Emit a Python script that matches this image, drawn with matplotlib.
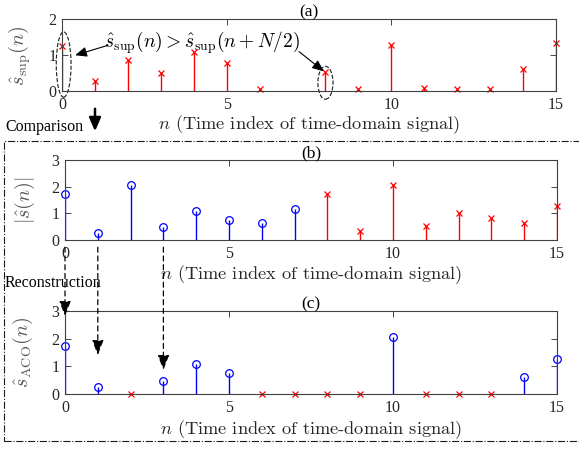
import numpy as np
import matplotlib
matplotlib.use("Agg")
import matplotlib.pyplot as plt
from matplotlib.patches import Ellipse, Rectangle, FancyArrowPatch, ConnectionPatch

plt.rcParams['font.family'] = ['Liberation Serif', 'DejaVu Serif']
plt.rcParams['mathtext.fontset'] = 'cm'

# (a) superimposed signal, n = 7 has no marker in the picture
n = np.arange(16)
s_sup = [1.26, 0.28, 0.88, 0.51, 1.09, 0.79, 0.05, np.nan,
         0.53, 0.05, 1.30, 0.07, 0.06, 0.05, 0.62, 1.33]

# (b) |s(n)|: first half blue, second half red
s_abs = [1.72, 0.26, 2.06, 0.47, 1.07, 0.76, 0.62, 1.18,
         1.72, 0.35, 2.07, 0.53, 1.03, 0.84, 0.62, 1.29]

# (c) reconstructed ACO signal
aco_n = [0, 1, 3, 4, 5, 10, 14, 15]
aco_vals = [1.73, 0.25, 0.48, 1.07, 0.76, 2.06, 0.60, 1.28]
aco_zero_n = [2, 6, 7, 8, 9, 11, 12, 13]

xticks = [0, 5, 10, 15]
xlab = r"$n$ (Time index of time-domain signal)"

W, H = 579, 449
fig = plt.figure(figsize=(W / 100, H / 100), dpi=100)


def px_axes(left, top, right, bottom):
    return fig.add_axes([left / W, 1 - bottom / H, (right - left) / W, (bottom - top) / H])


def style(ax, ymax, title, ylabel, ylab_x, xlab_y):
    ax.set_xlim(0, 15)
    ax.set_ylim(0, ymax)
    ax.set_xticks(xticks)
    ax.set_yticks(range(ymax + 1))
    ax.tick_params(direction='in', top=True, right=True, length=4, width=0.6,
                   labelsize=11.5, colors='0.15', pad=4)
    for sp in ax.spines.values():
        sp.set_color('0.25')
        sp.set_linewidth(0.8)
    ax.set_title(title, fontsize=12.5, pad=2)
    ax.set_ylabel(ylabel, fontsize=14.5, color='0.35')
    ax.yaxis.set_label_coords(ylab_x, 0.5)
    ax.set_xlabel(xlab, fontsize=13.2, family='cmr10', color='0.15')
    ax.xaxis.set_label_coords(0.5, xlab_y)


def stems(ax, x, y, color, marker, ms):
    ml, sl, bl = ax.stem(x, y, linefmt='-', markerfmt=marker, basefmt=' ')
    plt.setp(sl, color=color, linewidth=1.0)
    plt.setp(ml, color=color, markersize=ms, markerfacecolor='none', markeredgewidth=0.9)
    ml.set_clip_on(False)
    return ml


# ---- (a)
ax_a = px_axes(62, 19.5, 556, 91)
stems(ax_a, n, s_sup, 'red', 'x', 5)
style(ax_a, 2, "(a)", r"$\hat{s}_{\rm sup}(n)$", -0.058, -0.31)

ax_a.add_patch(Ellipse((0.05, 0.74), 0.45, 1.83, fill=False, ls='--', lw=0.8,
                       color='0.1', clip_on=False))
ax_a.add_patch(Ellipse((8.0, 0.23), 0.46, 0.92, fill=False, ls='--', lw=0.8,
                       color='0.1', clip_on=False))
ax_a.text(4.25, 1.36, r"$\hat{s}_{\rm sup}(n) > \hat{s}_{\rm sup}(n+N/2)$",
          fontsize=14, ha='center', va='center')
ax_a.annotate("", xy=(0.4, 1.0), xytext=(1.4, 1.28),
              arrowprops=dict(arrowstyle='-|>,head_length=0.7,head_width=0.3',
                              color='black', lw=0.8, shrinkA=0, shrinkB=0))
ax_a.annotate("", xy=(7.95, 0.55), xytext=(7.2, 1.1),
              arrowprops=dict(arrowstyle='-|>,head_length=0.7,head_width=0.3',
                              color='black', lw=0.8, shrinkA=0, shrinkB=0))

# ---- (b)
ax_b = px_axes(65, 160, 557, 240)
stems(ax_b, n[:8], s_abs[:8], 'blue', 'o', 5.5)
stems(ax_b, n[8:], s_abs[8:], 'red', 'x', 5)
style(ax_b, 3, "(b)", r"$|\hat{s}(n)|$", -0.057, -0.29)

# ---- (c)
ax_c = px_axes(65, 311, 557, 394)
stems(ax_c, aco_n, aco_vals, 'blue', 'o', 5.5)
zm = ax_c.plot(aco_zero_n, np.zeros(len(aco_zero_n)), 'x', color='red',
               markersize=5, markeredgewidth=0.9, linestyle='none')[0]
zm.set_clip_on(False)
style(ax_c, 3, "(c)", r"$\hat{s}_{\rm ACO}(n)$", -0.06, -0.29)

# dashed arrows from (b) to (c)
for k, yend in [(0, 2.82), (1, 1.41), (3, 0.87)]:
    con = ConnectionPatch(xyA=(k, -0.27), coordsA=ax_b.transData,
                          xyB=(k, yend), coordsB=ax_c.transData,
                          arrowstyle='-|>,head_length=0.9,head_width=0.35',
                          ls=(0, (4, 3)), lw=0.9, color='black',
                          shrinkA=0, shrinkB=0, mutation_scale=10)
    fig.add_artist(con)

# frame and side labels
fig.add_artist(Rectangle((4 / W, 1 - 441 / H), 1.0, (441 - 141) / H, fill=False,
                         transform=fig.transFigure, ls='-.', lw=0.8, color='0.1'))
fig.text(5 / W, 1 - 127 / H, "Comparison", fontsize=11.5, ha='left', va='center')
fig.add_artist(FancyArrowPatch((95 / W, 1 - 106 / H), (95 / W, 1 - 134 / H),
                               transform=fig.transFigure,
                               arrowstyle='-|>,head_length=0.8,head_width=0.35',
                               mutation_scale=10, lw=1.8, color='black'))
fig.text(5 / W, 1 - 283 / H, "Reconstruction", fontsize=11.5, ha='left', va='center')

fig.savefig("out.png", dpi=100)
